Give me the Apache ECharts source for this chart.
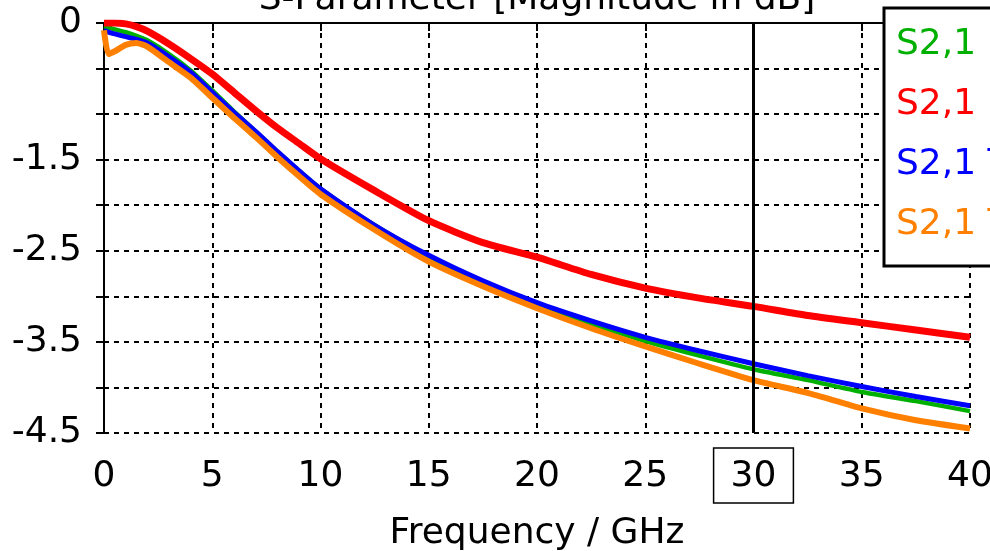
<!DOCTYPE html>
<html>
<head>
<meta charset="utf-8">
<script src="https://cdn.jsdelivr.net/npm/echarts@6/dist/echarts.min.js"></script>
<style>
    html, body { margin: 0; padding: 0; background: #fff; }
    #sparamChart { width: 990px; height: 551px; }
</style>
</head>
<body>
<div id="sparamChart"></div>
<script>
    // frequency points (GHz)
    var freq = [0, 0.2, 0.5, 1, 1.5, 2, 3, 4, 5, 6, 7, 8, 9, 10, 12.5, 15, 17.5, 20, 22.5, 25, 27.5, 30, 32.5, 35, 37.5, 40];

    // |S2,1| in dB
    var greenS21 = [-0.04, -0.05, -0.07, -0.1, -0.14, -0.19, -0.34, -0.52, -0.74, -0.97, -1.19, -1.41, -1.62, -1.82, -2.22, -2.56, -2.85, -3.09, -3.3, -3.49, -3.65, -3.8, -3.92, -4.05, -4.15, -4.26];
    var redS21 = [0, 0, 0, -0.01, -0.04, -0.09, -0.23, -0.39, -0.56, -0.76, -0.96, -1.15, -1.32, -1.49, -1.84, -2.17, -2.41, -2.57, -2.76, -2.91, -3.02, -3.11, -3.21, -3.29, -3.37, -3.45];
    var blueS21 = [-0.08, -0.1, -0.12, -0.15, -0.18, -0.22, -0.37, -0.54, -0.76, -0.98, -1.19, -1.41, -1.62, -1.82, -2.22, -2.55, -2.83, -3.07, -3.27, -3.45, -3.6, -3.74, -3.87, -3.99, -4.1, -4.2];
    var orangeS21 = [-0.08, -0.34, -0.31, -0.24, -0.22, -0.26, -0.43, -0.6, -0.82, -1.04, -1.25, -1.47, -1.68, -1.88, -2.27, -2.62, -2.89, -3.13, -3.35, -3.55, -3.74, -3.92, -4.06, -4.23, -4.36, -4.45];

    var seriesNames = ['S2,1 #1', 'S2,1 #2', 'S2,1 #3', 'S2,1 #4'];
    var legendLabels = ['S2,1', 'S2,1', 'S2,1 T', 'S2,1 T'];
    var seriesColors = ['#00b000', '#ff0000', '#0000ff', '#ff8000'];
    var lineWidths = [4.5, 7, 5, 6];

    var yTickLabels = [0, -1.5, -2.5, -3.5, -4.5];
    var markerFreq = 30;

    var FONT = '"DejaVu Sans", Verdana, sans-serif';

    function toPairs(ys) {
        var out = [];
        for (var i = 0; i < freq.length; i++) {
            out.push([freq[i], ys[i]]);
        }
        return out;
    }

    var allValues = [greenS21, redS21, blueS21, orangeS21];
    var series = [];
    for (var i = 0; i < allValues.length; i++) {
        series.push({
            name: seriesNames[i],
            type: 'line',
            data: toPairs(allValues[i]),
            smooth: 0.2,
            symbol: 'none',
            clip: true,
            lineStyle: { color: seriesColors[i], width: lineWidths[i] },
            itemStyle: { color: seriesColors[i] }
        });
    }
    // marker line at 30 GHz
    series[series.length - 1].markLine = {
        silent: true,
        symbol: ['none', 'none'],
        label: { show: false },
        lineStyle: { color: '#000', width: 3, type: 'solid' },
        data: [{ xAxis: markerFreq }]
    };

    var legendData = [];
    for (var j = 0; j < seriesNames.length; j++) {
        legendData.push({ name: seriesNames[j], textStyle: { color: seriesColors[j] } });
    }

    var gridDash = { color: '#000', width: 2, type: [5, 5] };

    var option = {
        animation: false,
        backgroundColor: '#fff',
        textStyle: { fontFamily: FONT },
        title: {
            text: 'S-Parameter [Magnitude in dB]',
            left: 537,
            textAlign: 'center',
            top: -18,
            padding: 0,
            textStyle: { fontFamily: FONT, fontSize: 36, fontWeight: 'normal', color: '#000' }
        },
        grid: { left: 104, right: 20, top: 23, bottom: 118, outerBoundsMode: 'none', containLabel: false },
        legend: {
            orient: 'vertical',
            left: 884,
            top: 8,
            padding: [17, 40, 21, 7],
            itemWidth: 0,
            itemHeight: 0,
            itemGap: 20,
            icon: 'rect',
            backgroundColor: '#fff',
            borderColor: '#000',
            borderWidth: 3,
            borderRadius: 0,
            selectedMode: false,
            data: legendData,
            formatter: function (name) {
                return legendLabels[seriesNames.indexOf(name)];
            },
            textStyle: { fontFamily: FONT, fontSize: 36, lineHeight: 40 }
        },
        xAxis: [{
            type: 'value',
            min: 0,
            max: 40,
            interval: 5,
            name: 'Frequency / GHz',
            nameLocation: 'middle',
            nameGap: 83,
            nameTextStyle: { fontFamily: FONT, fontSize: 36, color: '#000' },
            axisLine: { lineStyle: { color: '#000', width: 2 } },
            axisTick: { show: true, length: 8, lineStyle: { color: '#000', width: 2 } },
            splitLine: { show: true, lineStyle: gridDash },
            axisLabel: {
                margin: 15,
                formatter: function (v) {
                    return v === markerFreq ? '{box|' + v + '}' : '{n|' + v + '}';
                },
                rich: {
                    n: { fontFamily: FONT, fontSize: 36, color: '#000', padding: [11, 17, 8, 17] },
                    box: {
                        fontFamily: FONT, fontSize: 36, color: '#000', padding: [11, 17, 8, 17],
                        borderColor: '#000', borderWidth: 1.5
                    }
                }
            }
        }, {
            type: 'value',
            position: 'top',
            min: 0,
            max: 40,
            interval: 5,
            axisLine: { show: true, lineStyle: { color: '#000', width: 2 } },
            axisTick: { show: false },
            axisLabel: { show: false },
            splitLine: { show: false }
        }],
        yAxis: [{
            type: 'value',
            min: -4.5,
            max: 0,
            interval: 0.5,
            axisLine: { show: true, lineStyle: { color: '#000', width: 2 } },
            axisTick: { show: true, length: 8, lineStyle: { color: '#000', width: 2 } },
            splitLine: { show: true, lineStyle: gridDash },
            axisLabel: {
                margin: 22,
                fontFamily: FONT,
                fontSize: 36,
                color: '#000',
                formatter: function (v) {
                    return yTickLabels.indexOf(v) >= 0 ? String(v) : '';
                }
            }
        }, {
            type: 'value',
            position: 'right',
            min: -4.5,
            max: 0,
            interval: 0.5,
            axisLine: { show: true, lineStyle: { color: '#000', width: 2 } },
            axisTick: { show: false },
            axisLabel: { show: false },
            splitLine: { show: false }
        }],
        series: series
    };

    var myChart = echarts.init(document.getElementById('sparamChart'));
    myChart.setOption(option);
    window.onresize = function () {
        myChart.resize();
    };
</script>
</body>
</html>
